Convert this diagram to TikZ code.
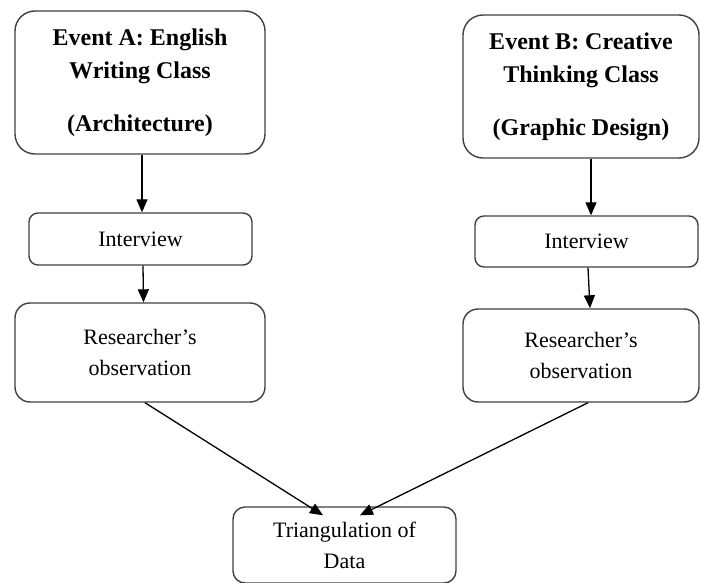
\documentclass[tikz,border=0pt]{standalone}
\usepackage{fontspec}
\setmainfont{Liberation Serif}
\usetikzlibrary{arrows.meta, positioning}
\definecolor{BoxLine}{HTML}{404040}

\tikzset{
    eventbox/.style={draw=BoxLine, line width=1.4pt, rounded corners=20pt,
        align=center, inner sep=0pt, font=\fontsize{24}{33}\selectfont\bfseries},
    stagebox/.style={draw=BoxLine, line width=1.4pt, rounded corners=9pt,
        align=center, inner sep=0pt, font=\fontsize{22}{31}\selectfont},
    flow/.style={-{Triangle[length=13pt, width=11pt]}, line width=1.3pt, black}
}

\begin{document}
\begin{tikzpicture}[x=1pt, y=-1pt]
    \useasboundingbox (0,0) rectangle (701,583);

    % left branch
    \node[eventbox, minimum width=250pt, minimum height=143pt] (evA) at (140,82.5)
        {Event A: English\\ Writing Class\\[20pt] (Architecture)};
    \node[stagebox, minimum width=223pt, minimum height=52pt] (intA) at (140.5,239) {Interview};
    \node[stagebox, rounded corners=15pt, minimum width=250pt, minimum height=99pt] (obsA) at (140,352.5)
        {Researcher’s\\ observation};

    % right branch
    \node[eventbox, minimum width=236pt, minimum height=143pt] (evB) at (581,86.5)
        {Event B: Creative\\ Thinking Class\\[20pt] (Graphic Design)};
    \node[stagebox, minimum width=223pt, minimum height=51pt] (intB) at (586.5,241.5) {Interview};
    \node[stagebox, rounded corners=15pt, minimum width=236pt, minimum height=93pt] (obsB) at (581,355.5)
        {Researcher’s\\ observation};

    % result
    \node[stagebox, rounded corners=12pt, minimum width=223pt, minimum height=76pt] (tri) at (344.5,545)
        {Triangulation of\\ Data};

    \draw[flow] ([xshift=2pt]evA.south) -- ([xshift=1.5pt]intA.north);
    \draw[flow] ([xshift=2.5pt]intA.south) -- ([xshift=3.5pt]obsA.north);
    \draw[flow] ([xshift=10pt]evB.south) -- ([xshift=4.5pt]intB.north);
    \draw[flow] ([xshift=1.5pt]intB.south) -- ([xshift=9pt]obsB.north);
    \draw[flow] ([xshift=5pt]obsA.south) -- ([xshift=-21.5pt, yshift=-9pt]tri.north);
    \draw[flow] ([xshift=7pt]obsB.south) -- ([xshift=15.5pt, yshift=-9pt]tri.north);
\end{tikzpicture}
\end{document}
